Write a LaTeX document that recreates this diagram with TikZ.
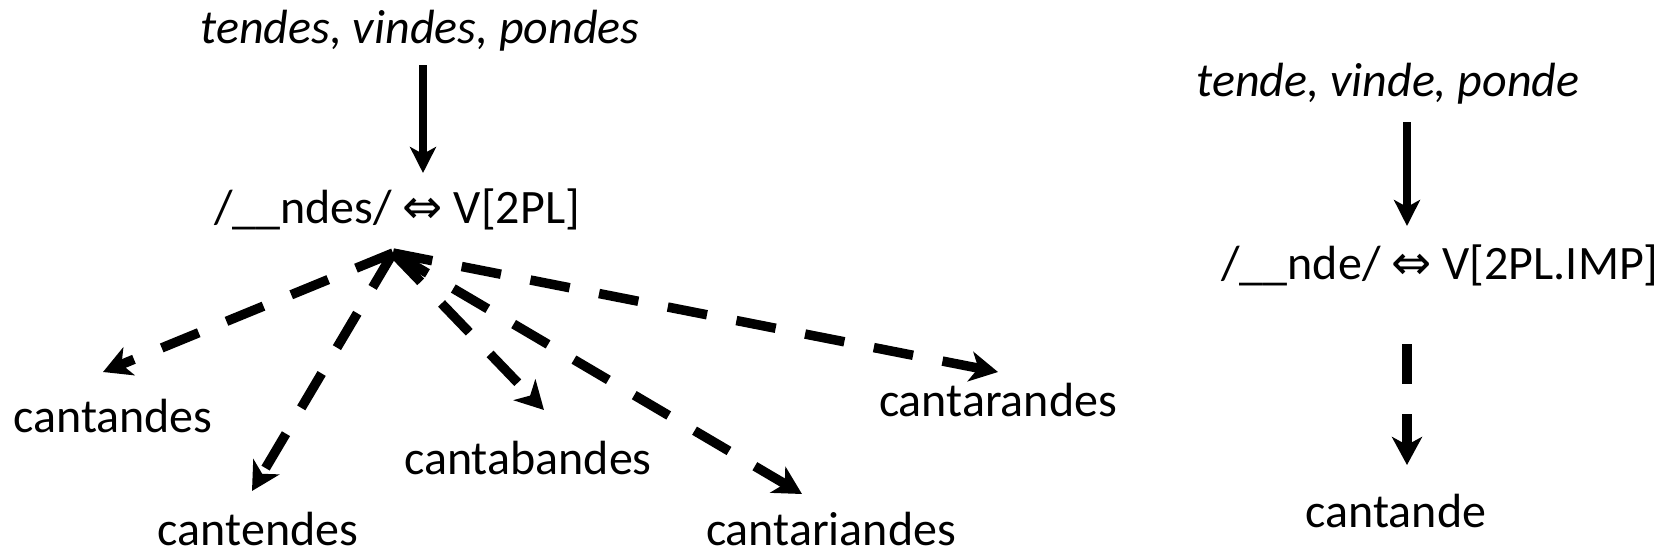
\documentclass[tikz,border=0pt]{standalone}
\usepackage{fontspec}
\setmainfont{Carlito}
\newfontfamily\symfont{DejaVu Sans}
\usetikzlibrary{arrows.meta}
\begin{document}
\begin{tikzpicture}[x=1pt,y=-1pt,
  lbl/.style={font=\fontsize{48}{58}\selectfont, inner sep=0pt, anchor=base},
  itlbl/.style={lbl, font=\fontsize{48}{58}\selectfont\itshape},
  solidarr/.style={line width=8pt, -{Stealth[length=26pt,width=26pt,inset=7pt]}},
  dasharr/.style={line width=9.5pt, dash pattern=on 40pt off 30pt, -{Stealth[length=28pt,width=30pt,inset=8pt]}}]
\useasboundingbox (0,0) rectangle (1665,555);

% left group
\node[itlbl] (t1) at (420,43) {tendes, vindes, pondes};
\node[lbl] (m1) at (397,223) {/\_\_ndes/ {\symfont ⇔} V[2PL]};
\node[lbl] (c1) at (113,432) {cantandes};
\node[lbl] (c2) at (258,545) {cantendes};
\node[lbl] (c3) at (528,474) {cantabandes};
\node[lbl] (c4) at (831,545) {cantariandes};
\node[lbl] (c5) at (998,416) {cantarandes};

\coordinate (a1s) at (423,65);
\coordinate (a1e) at (423,173);
\draw[solidarr] (a1s) -- (a1e);

\coordinate (hub) at (393,253);
\coordinate (e1) at (103,372);
\coordinate (e2) at (252,491);
\coordinate (e3) at (544,410);
\coordinate (e4) at (802,494);
\coordinate (e5) at (998,372);
\draw[dasharr] (hub) -- (e1);
\draw[dasharr] (hub) -- (e2);
\draw[dasharr] (hub) -- (e3);
\draw[dasharr] (hub) -- (e4);
\draw[dasharr] (hub) -- (e5);

% right group
\node[itlbl] (t2) at (1388,96) {tende, vinde, ponde};
\node[lbl] (m2) at (1440,279) {/\_\_nde/ {\symfont ⇔} V[2PL.IMP]};
\node[lbl] (c6) at (1396,527) {cantande};

\coordinate (a2s) at (1407,122);
\coordinate (a2e) at (1407,226);
\draw[solidarr] (a2s) -- (a2e);
\coordinate (a3s) at (1407,344);
\coordinate (a3e) at (1407,465);
\draw[dasharr] (a3s) -- (a3e);
\end{tikzpicture}
\end{document}
